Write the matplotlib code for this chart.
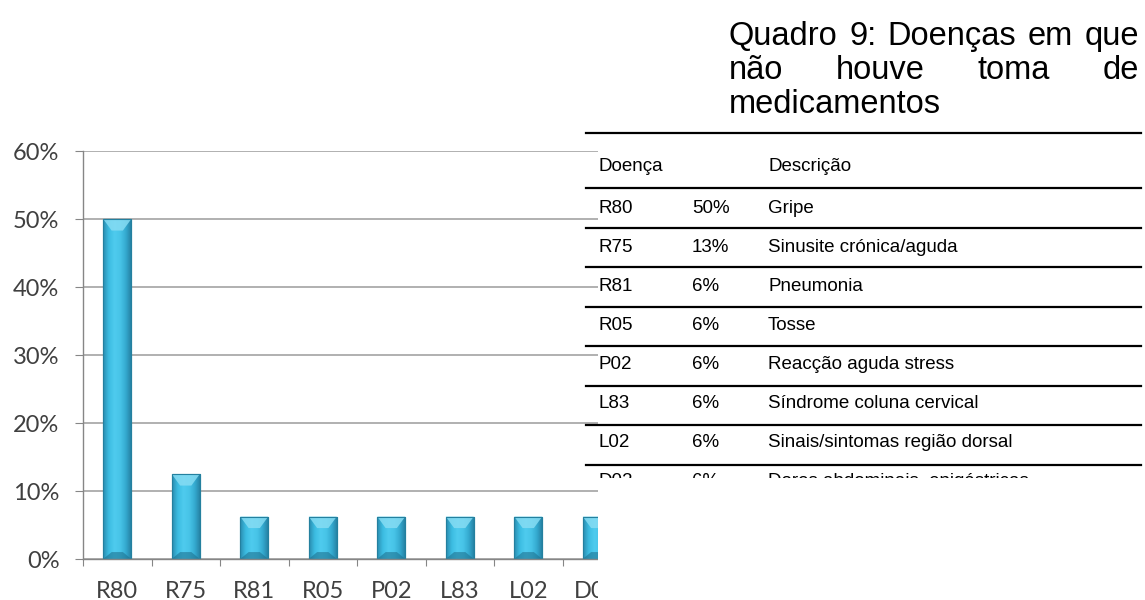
import numpy as np
import matplotlib.pyplot as plt
from matplotlib.colors import LinearSegmentedColormap
from matplotlib.patches import Rectangle, Polygon
from matplotlib.lines import Line2D

# chart data
codes = ['R80', 'R75', 'R81', 'R05', 'P02', 'L83', 'L02', 'D02']
shares = [0.50, 0.125, 0.0625, 0.0625, 0.0625, 0.0625, 0.0625, 0.0625]
y_ticks = [0.0, 0.1, 0.2, 0.3, 0.4, 0.5, 0.6]

# table data
pct_labels = ['50%', '13%', '6%', '6%', '6%', '6%', '6%', '6%']
descriptions = ['Gripe', 'Sinusite crónica/aguda', 'Pneumonia', 'Tosse',
                'Reacção aguda stress', 'Síndrome coluna cervical',
                'Sinais/sintomas região dorsal', 'Dores abdominais, epigástricas']
header = ['Doença', 'Descrição']
title_lines = ['Quadro 9: Doenças em que', 'não houve toma de', 'medicamentos']

W, H = 1145, 600


def fx(px):
    return px / W


def fy(py):
    return 1 - py / H


fig = plt.figure(figsize=(W / 100, H / 100), dpi=100)
ax = fig.add_axes([fx(83), fy(559), fx(598) - fx(83), fy(151) - fy(559)])

x = np.arange(len(codes))
bar_w = 0.41
bars = ax.bar(x, shares, width=bar_w, color='#3bb6da', edgecolor='#24809f',
              linewidth=0.8, zorder=2)

# cylinder-ish shading on each bar
cyl = LinearSegmentedColormap.from_list(
    'cyl', ['#2a8db0', '#3cbde2', '#4fcbee', '#47c4e8', '#34a9cf', '#247d9e'])
grad = np.linspace(0, 1, 64).reshape(1, -1)
d_top = 0.017
for xi, h, bar in zip(x, shares, bars):
    x0, x1 = xi - bar_w / 2, xi + bar_w / 2
    im = ax.imshow(grad, cmap=cyl, extent=(x0, x1, 0, h), aspect='auto',
                   zorder=2.1, interpolation='bicubic')
    im.set_clip_path(bar)
    inset = bar_w * 0.3
    ax.add_patch(Polygon([(x0, h), (x1, h), (x1 - inset, h - d_top),
                          (x0 + inset, h - d_top)],
                         closed=True, facecolor='#86dcf3', edgecolor='none',
                         alpha=0.85, zorder=2.2))
    ax.add_patch(Polygon([(x0, 0), (x1, 0), (x1 - inset, d_top * 0.6),
                          (x0 + inset, d_top * 0.6)],
                         closed=True, facecolor='#1f7391', edgecolor='none',
                         alpha=0.6, zorder=2.2))
    ax.add_patch(Rectangle((x0, 0), bar_w, h, facecolor='none',
                           edgecolor='#24809f', linewidth=0.8, zorder=2.3))

ax.set_xticks(np.arange(len(codes) + 1) - 0.5)
ax.set_xticklabels([])
ax.set_xticks(x, minor=True)
ax.set_xticklabels(codes, minor=True)
ax.tick_params(axis='x', which='major', length=5, color='#868686', direction='out')
ax.tick_params(axis='x', which='minor', length=0, pad=16, labelsize=17,
               labelcolor='#404040')
ax.set_yticks(y_ticks)
ax.set_yticklabels(['{:.0f}%'.format(v * 100) for v in y_ticks])
ax.tick_params(axis='y', length=6, pad=11, color='#868686', labelsize=17,
               labelcolor='#404040')
for lbl in ax.get_xticklabels(minor=True) + ax.get_yticklabels():
    lbl.set_family('Lato')

# limits after the ticks, so the tick positions don't widen the view
ax.set_xlim(-0.5, -0.5 + (598 - 83) / 68.5)
ax.set_ylim(0, 0.6)

ax.yaxis.grid(True, color='#a3a3a3', linewidth=1.2)
ax.set_axisbelow(True)
for side in ['top', 'right']:
    ax.spines[side].set_visible(False)
for side in ['left', 'bottom']:
    ax.spines[side].set_color('#868686')
    ax.spines[side].set_linewidth(1.0)

# the table covers the right part of the chart
fig.patches.append(Rectangle((fx(598), 0), 1 - fx(598), 1, transform=fig.transFigure,
                             facecolor='white', edgecolor='none', zorder=5))

# title, justified between two edges (last line left aligned)
tfont = dict(family='Liberation Sans', fontsize=23.5, color='black', zorder=6,
             va='baseline', ha='left')
title_left, title_right = 729, 1139
title_base = [45, 79, 113]
renderer = fig.canvas.get_renderer()
for k, (line, yb) in enumerate(zip(title_lines, title_base)):
    if k == len(title_lines) - 1:
        fig.text(fx(title_left), fy(yb), line, **tfont)
        continue
    words = line.split()
    texts = [fig.text(0, fy(yb), w, **tfont) for w in words]
    widths = [t.get_window_extent(renderer).width for t in texts]
    gap = (title_right - title_left - sum(widths)) / (len(words) - 1)
    pos = title_left
    for t, w in zip(texts, widths):
        t.set_x(fx(pos))
        pos += w + gap

# table
row_h = 39.5
line_ys = [132.7, 188.3] + [188.3 + row_h * (i + 1) for i in range(7)]
for ly in line_ys:
    fig.lines.append(Line2D([fx(586), fx(1141)], [fy(ly), fy(ly)],
                            transform=fig.transFigure, color='black',
                            linewidth=1.6, zorder=6))

cfont = dict(family='Liberation Sans', fontsize=13.5, color='black', zorder=6,
             va='baseline', ha='left')
col_x = [598, 692, 768]
fig.text(fx(col_x[0]), fy(170.7), header[0], **cfont)
fig.text(fx(col_x[2]), fy(170.7), header[1], **cfont)
for i, (code, pct, desc) in enumerate(zip(codes, pct_labels, descriptions)):
    yb = 213 + 39.0 * i
    fig.text(fx(col_x[0]), fy(yb), code, **cfont)
    fig.text(fx(col_x[1]), fy(yb), pct, **cfont)
    fig.text(fx(col_x[2]), fy(yb), desc, **cfont)

# table is cut off at the bottom
fig.patches.append(Rectangle((fx(598), 0), 1 - fx(598), fy(478),
                             transform=fig.transFigure, facecolor='white',
                             edgecolor='none', zorder=7))

fig.savefig('out.png', dpi=100)
